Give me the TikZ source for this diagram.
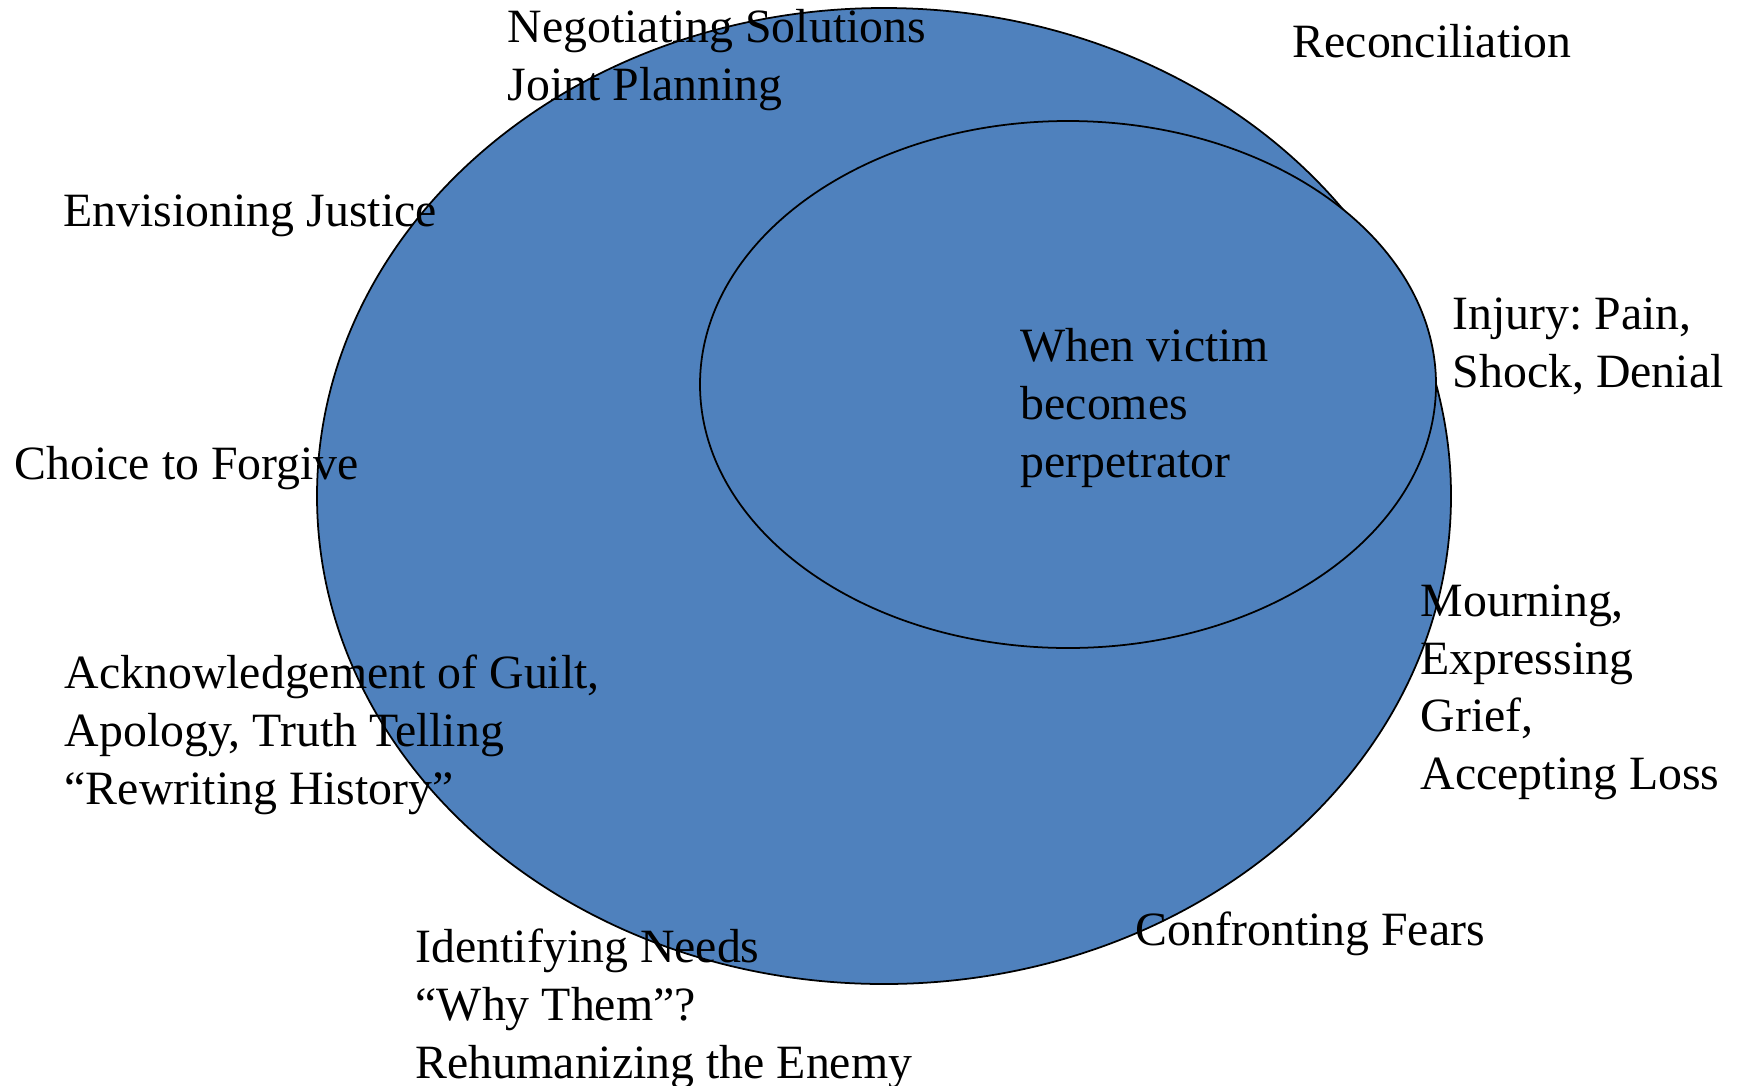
\documentclass[tikz,border=0pt]{standalone}
\usepackage{fontspec}
\setmainfont{Liberation Serif}
\frenchspacing
\definecolor{ringblue}{HTML}{4F81BD}
\begin{document}
\begin{tikzpicture}[line join=round, line cap=round,
	ring/.style={draw=black, line width=0.5pt, fill=ringblue},
	lbl/.style={anchor=base west, inner sep=0pt, align=left, font=\fontsize{13.6pt}{16.4pt}\selectfont}]
	\useasboundingbox (0,0) rectangle (17.41,-10.85);
	\coordinate (O)at(8.84,-4.96);
	\coordinate (P)at(10.68,-3.845);
	\draw[ring] (O) ellipse [x radius=5.67, y radius=4.88];
	\draw[ring] (P) ellipse [x radius=3.68, y radius=2.635];
	% multi-line labels sit on the baseline of their last line
	\node[lbl] (neg) at (5.07,-1.005) {Negotiating Solutions\\Joint Planning};
	\node[lbl] (rec) at (12.92,-0.57) {Reconciliation};
	\node[lbl] (env) at (0.63,-2.26) {Envisioning Justice};
	\node[lbl] (cho) at (0.14,-4.79) {Choice to Forgive};
	\node[lbl] (vic) at (10.20,-4.77) {When victim\\becomes\\perpetrator};
	\node[lbl] (inj) at (14.52,-3.875) {Injury: Pain,\\Shock, Denial};
	\node[lbl] (mou) at (14.20,-7.895) {Mourning,\\Expressing\\Grief,\\Accepting Loss};
	\node[lbl] (ack) at (0.64,-8.04) {Acknowledgement of Guilt,\\Apology, Truth Telling\\``Rewriting History''};
	\node[lbl] (con) at (11.35,-9.45) {Confronting Fears};
	\node[lbl] (ide) at (4.15,-10.78) {Identifying Needs\\``Why Them''?\\Rehumanizing the Enemy};
\end{tikzpicture}
\end{document}
